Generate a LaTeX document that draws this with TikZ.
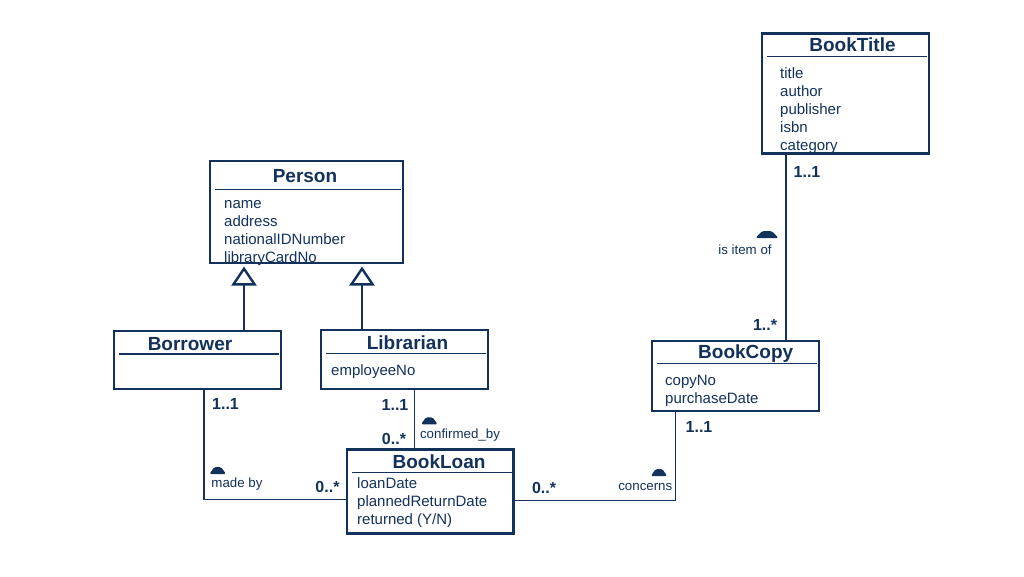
\documentclass[tikz,border=0pt]{standalone}
\usepackage{fontspec}
\setmainfont{Liberation Sans}
\usetikzlibrary{arrows.meta, positioning}
\definecolor{umlnavy}{RGB}{18,50,92}
\newcommand{\classsep}[2]{\draw[sep] ([xshift=5pt,yshift=-#2pt]#1.north west) -- ([xshift=-2pt,yshift=-#2pt]#1.north east);}
\newcommand{\assocmark}[3]{\fill[umlnavy, rounded corners=1.5pt] ({#1-#3},#2) -- ({#1-0.4*#3},{#2-7}) -- ({#1+0.4*#3},{#2-7}) -- ({#1+#3},#2) -- cycle;}
\tikzset{
  classbox/.style={draw=umlnavy, line width=2.4pt, fill=white, anchor=north west, inner sep=0pt, outer sep=0pt},
  classname/.style={font=\fontsize{19}{22}\selectfont\bfseries, text=umlnavy, anchor=base, inner sep=0pt},
  attr/.style={font=\fontsize{15}{18}\selectfont, text=umlnavy, anchor=base west, inner sep=0pt},
  mult/.style={font=\fontsize{16}{19}\selectfont\bfseries, text=umlnavy, anchor=base, inner sep=0pt},
  rolename/.style={font=\fontsize{13.3}{16}\selectfont, text=umlnavy, anchor=base, inner sep=0pt},
  sep/.style={draw=umlnavy, line width=1.1pt},
  assoc/.style={draw=umlnavy, line width=1.1pt},
  gen/.style={draw=umlnavy, line width=1.1pt, shorten >=3.5pt, -{Triangle[open, length=19pt, width=25pt, line width=2.4pt]}}
}
\begin{document}
\begin{tikzpicture}[x=1pt, y=-1pt]
\useasboundingbox[fill=white] (0,0) rectangle (1024,576);
% classes
\node[classbox, minimum width=167pt, minimum height=120pt] (booktitle) at (762,33.3) {};
\node[classbox, minimum width=193pt, minimum height=102pt] (person) at (210,161) {};
\node[classbox, minimum width=167pt, minimum height=58pt] (borrower) at (114,331) {};
\node[classbox, minimum width=167pt, minimum height=59pt] (librarian) at (321,330) {};
\node[classbox, minimum width=167pt, minimum height=70pt] (bookcopy) at (652,340.7) {};
\node[classbox, minimum width=166.5pt, minimum height=84pt] (bookloan) at (347,449.3) {};
\classsep{booktitle}{23.4}
\classsep{person}{28.3}
\classsep{borrower}{23}
\classsep{librarian}{23.3}
\classsep{bookcopy}{22.6}
\classsep{bookloan}{23}
\node[classname] (booktitle-name) at (852.5,51.7) {BookTitle};
\node[classname] (person-name) at (305,182.3) {Person};
\node[classname] (borrower-name) at (190,350) {Borrower};
\node[classname] (librarian-name) at (407.5,349.3) {Librarian};
\node[classname] (bookcopy-name) at (745.7,358.3) {BookCopy};
\node[classname] (bookloan-name) at (439,468.3) {BookLoan};
\foreach \a [count=\i] in {title,author,publisher,isbn,category}
  \node[attr] (booktitle-\i) at (780,60.5+18*\i) {\a};
\foreach \a [count=\i] in {name,address,nationalIDNumber,libraryCardNo}
  \node[attr] (person-\i) at (224,190+18*\i) {\a};
\node[attr] (librarian-1) at (331,375) {employeeNo};
\foreach \a [count=\i] in {copyNo,purchaseDate}
  \node[attr] (bookcopy-\i) at (665,367+18*\i) {\a};
\foreach \a [count=\i] in {loanDate,plannedReturnDate,{returned (Y/N)}}
  \node[attr] (bookloan-\i) at (357,470+18*\i) {\a};
% generalisation
\coordinate (g1) at (244,0);
\coordinate (g2) at (362,0);
\draw[gen] (g1 |- borrower.north) -- (g1 |- person.south);
\draw[gen] (g2 |- librarian.north) -- (g2 |- person.south);
% associations
\coordinate (itemof) at (786,0);
\coordinate (madeby) at (204,499.3);
\coordinate (confirmed) at (414.3,0);
\coordinate (concerns) at (675.7,500.5);
\draw[assoc] (itemof |- booktitle.south) -- (itemof |- bookcopy.north);
\draw[assoc] (madeby |- borrower.south) -- (madeby) -- (madeby -| bookloan.west);
\draw[assoc] (confirmed |- librarian.south) -- (confirmed |- bookloan.north);
\draw[assoc] (concerns |- bookcopy.south) -- (concerns) -- (concerns -| bookloan.east);
\node[mult] (m-title) at (807,177.7) {1..1};
\node[mult] (m-copy-up) at (765,330) {1..*};
\node[mult] (m-borrower) at (225.5,409) {1..1};
\node[mult] (m-loan-left) at (327.5,492.7) {0..*};
\node[mult] (m-librarian) at (395,410) {1..1};
\node[mult] (m-loan-top) at (394,444.3) {0..*};
\node[mult] (m-loan-right) at (544,493.3) {0..*};
\node[mult] (m-copy-down) at (699,432.3) {1..1};
\node[rolename] (r-itemof) at (745,254.3) {is item of};
\node[rolename] (r-madeby) at (237,487.5) {made by};
\node[rolename] (r-confirmed) at (460,438.3) {confirmed\_by};
\node[rolename] (r-concerns) at (645.3,490) {concerns};
\assocmark{767}{238}{11.5}
\assocmark{217.7}{474}{8.3}
\assocmark{429.3}{424.3}{8.3}
\assocmark{659}{476}{8.2}
\end{tikzpicture}
\end{document}
